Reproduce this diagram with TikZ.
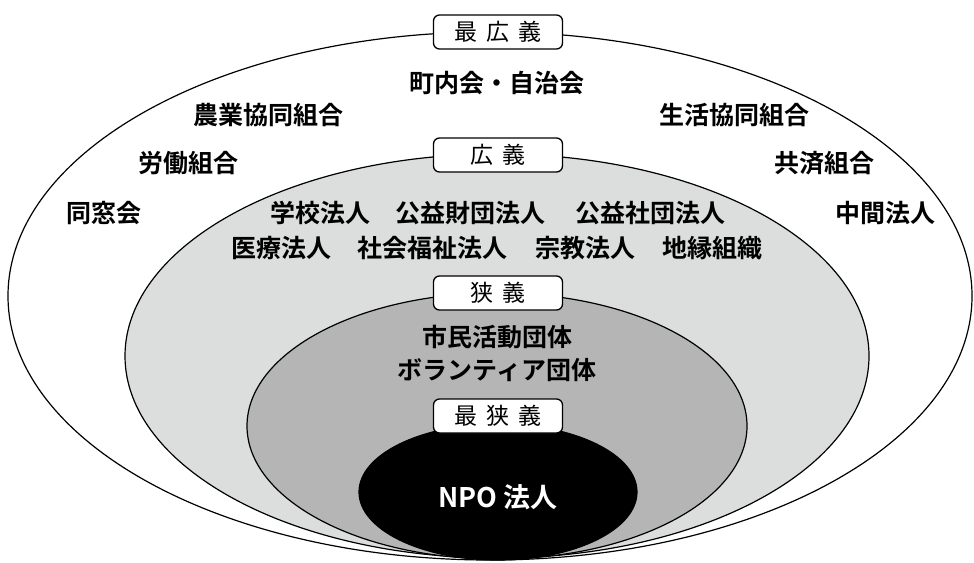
\documentclass[tikz,border=0pt]{standalone}
\usepackage{fontspec}
\setmainfont{Noto Sans CJK JP}[BoldFont={Noto Sans CJK JP Bold}]
\usepackage{tikz}
\usetikzlibrary{positioning}
\definecolor{lightgr}{HTML}{DCDDDD}
\definecolor{midgr}{HTML}{B5B5B5}
\tikzstyle{tag} = [draw, fill=white, rounded corners=6pt, line width=1.3pt, minimum width=129pt, minimum height=34pt, inner sep=0pt, font=\fontsize{23}{23}\selectfont]
\tikzstyle{org} = [inner sep=0pt, font=\fontsize{25}{25}\selectfont\bfseries]
\tikzstyle{ring} = [draw, line width=1.2pt]

\begin{document}
\begin{tikzpicture}[x=1pt, y=-1pt]
        \useasboundingbox (0,0) rectangle (974,562);
        \draw[ring, fill=white] (490,296) ellipse [x radius=482, y radius=264];
        \draw[ring, fill=lightgr] (497,356) ellipse [x radius=372, y radius=202];
        \draw[ring, fill=midgr] (497,426) ellipse [x radius=250, y radius=133];
        \draw[ring, fill=black] (498,492) ellipse [x radius=139, y radius=68];
        \node[tag] (saikougi) at (498,32) {最\hspace{0.4em}広\hspace{0.4em}義};
        \node[tag] (kougi) at (498,155) {広\hspace{0.4em}義};
        \node[tag] (kyougi) at (498,293) {狭\hspace{0.4em}義};
        \node[tag] (saikyougi) at (498,416) {最\hspace{0.4em}狭\hspace{0.4em}義};
        \node[org] (chonai) at (497,83) {町内会・自治会};
        \node[org] (nougyou) at (268,115) {農業協同組合};
        \node[org] (seikatsu) at (734,115) {生活協同組合};
        \node[org] (roudou) at (188,163) {労働組合};
        \node[org] (kyousai) at (824,163) {共済組合};
        \node[org] (dousou) at (104,213) {同窓会};
        \node[org] (chukan) at (885,213) {中間法人};
        \node[org] (gakkou) at (320,213) {学校法人};
        \node[org] (zaidan) at (470,213) {公益財団法人};
        \node[org] (shadan) at (650,213) {公益社団法人};
        \node[org] (iryou) at (281,248) {医療法人};
        \node[org] (fukushi) at (432,248) {社会福祉法人};
        \node[org] (shukyou) at (585,248) {宗教法人};
        \node[org] (chien) at (712,248) {地縁組織};
        \node[org] (shimin) at (497,337) {市民活動団体};
        \node[org, below=9pt of shimin] (volunteer) {ボランティア団体};
        \node[org, text=white, font=\fontsize{27}{27}\selectfont\bfseries] (npo) at (498,497) {NPO 法人};
      \end{tikzpicture}
\end{document}
